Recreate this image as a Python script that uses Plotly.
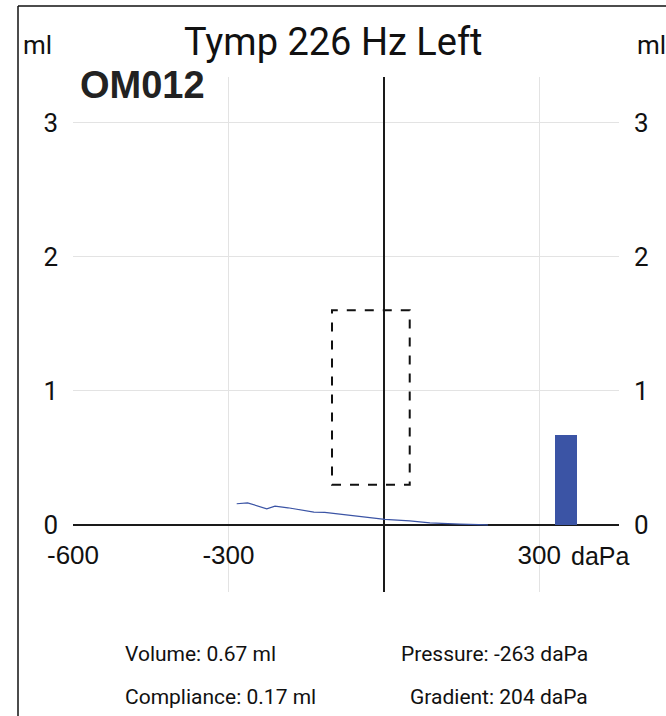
import plotly.graph_objects as go

# ---- data ----
pressure_daPa = [-284, -263, -226, -210, -185, -153, -135, -114, -60, 2, 50, 70, 89, 147, 201]
compliance_ml = [0.158, 0.165, 0.12, 0.14, 0.128, 0.11, 0.095, 0.093, 0.071, 0.041, 0.031, 0.024, 0.016, 0.006, 0.001]
volume_pos = [352]
volume_ml = [0.67]
normal_box_x = [-100, 50]
normal_box_y = [0.3, 1.6]
x_tickvals = [-600, -300, 0, 300]
x_ticktext = ["-600", "-300", "", "300"]
y_tickvals = [0, 1, 2, 3]
y_ticktext = ["0", "1", "2", "3"]
x_range = [-600, 454]
y_range = [-0.5, 3.34]
title = "Tymp 226 Hz Left"
ear_id = "OM012"
info_left = ["Volume: 0.67 ml", "Compliance: 0.17 ml"]
info_right = ["Pressure: -263 daPa", "Gradient: 204 daPa"]

W, H = 666, 716
L, R, T, B = 73, 619, 77, 592

def px(xp):
    return (xp - L) / (R - L)

def py(yp):
    return (B - yp) / (B - T)

BLUE = "#3b54a5"
MYR = "Roboto, Open Sans, sans-serif"
ARI = "Liberation Sans, Arial, sans-serif"

fig = go.Figure()
fig.add_trace(go.Scatter(x=pressure_daPa, y=compliance_ml, mode="lines",
                         line=dict(color=BLUE, width=1.2), showlegend=False, hoverinfo="skip"))
fig.add_trace(go.Bar(x=volume_pos, y=volume_ml, width=42, marker=dict(color=BLUE, line=dict(width=0)),
                     yaxis="y2", showlegend=False))

y0_frac = (0 - y_range[0]) / (y_range[1] - y_range[0])

fig.update_layout(
    width=W, height=H,
    margin=dict(l=L, r=W - R, t=T, b=H - B),
    paper_bgcolor="white", plot_bgcolor="white",
    showlegend=False,
    xaxis=dict(range=x_range, tickvals=x_tickvals, ticktext=x_ticktext,
               showgrid=True, gridcolor="#e3e3e3", gridwidth=1,
               zeroline=True, zerolinecolor="#1a1a1a", zerolinewidth=2,
               showline=False, ticks="", anchor="free", position=y0_frac,
               tickfont=dict(family=ARI, size=26, color="#111"),
               ticklabelstandoff=12, fixedrange=True),
    yaxis=dict(range=y_range, tickvals=y_tickvals, ticktext=y_ticktext,
               showgrid=True, gridcolor="#e3e3e3", gridwidth=1,
               zeroline=True, zerolinecolor="#1a1a1a", zerolinewidth=2,
               showline=False, ticks="",
               tickfont=dict(family=MYR, size=26, color="#111"),
               ticklabelstandoff=14),
    yaxis2=dict(range=y_range, tickvals=y_tickvals, ticktext=y_ticktext,
                overlaying="y", side="right", showgrid=False, zeroline=False,
                showline=False, ticks="",
                tickfont=dict(family=MYR, size=26, color="#111"),
                ticklabelstandoff=14),
    bargap=0,
)

# normal region box
fig.add_shape(type="rect", xref="x", yref="y",
              x0=normal_box_x[0], x1=normal_box_x[1], y0=normal_box_y[0], y1=normal_box_y[1],
              line=dict(color="#111", width=2, dash="dash"))

# outer frame (left and top)
fig.add_shape(type="line", xref="paper", yref="paper",
              x0=px(18), x1=px(18), y0=py(6), y1=py(H + 5), line=dict(color="#111", width=1.5))
fig.add_shape(type="line", xref="paper", yref="paper",
              x0=px(18), x1=px(W + 5), y0=py(6), y1=py(6), line=dict(color="#111", width=1.5))

ann = []
ann.append(dict(text=title, x=px(333), y=py(42), xref="paper", yref="paper",
                showarrow=False, font=dict(family=MYR, size=38, color="#111"),
                xanchor="center", yanchor="middle"))
ann.append(dict(text="ml", x=px(21), y=py(45), xref="paper", yref="paper",
                showarrow=False, font=dict(family=MYR, size=26, color="#111"),
                xanchor="left", yanchor="middle"))
ann.append(dict(text="ml", x=px(635), y=py(45), xref="paper", yref="paper",
                showarrow=False, font=dict(family=MYR, size=26, color="#111"),
                xanchor="left", yanchor="middle"))
ann.append(dict(text="<b>" + ear_id + "</b>", x=px(78), y=py(85), xref="paper", yref="paper",
                showarrow=False, font=dict(family=ARI, size=38, color="#222"),
                xanchor="left", yanchor="middle"))
ann.append(dict(text="daPa", x=px(600), y=py(556), xref="paper", yref="paper",
                showarrow=False, font=dict(family=ARI, size=25, color="#111"),
                xanchor="center", yanchor="middle"))
for i, yy in enumerate([654, 697]):
    ann.append(dict(text=info_left[i], x=px(123), y=py(yy), xref="paper", yref="paper",
                    showarrow=False, font=dict(family=MYR, size=21, color="#111"),
                    xanchor="left", yanchor="middle"))
    ann.append(dict(text=info_right[i], x=px(590), y=py(yy), xref="paper", yref="paper",
                    showarrow=False, font=dict(family=MYR, size=21, color="#111"),
                    xanchor="right", yanchor="middle"))
fig.update_layout(annotations=ann)

fig.write_html("out.html", config=dict(displayModeBar=False))
